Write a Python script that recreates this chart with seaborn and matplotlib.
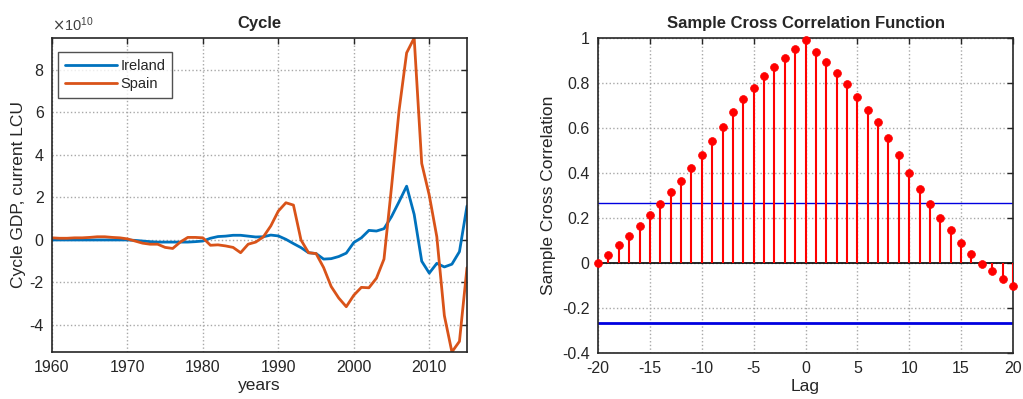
import numpy as np
import pandas as pd
import seaborn as sns
import matplotlib.pyplot as plt
from matplotlib.ticker import FuncFormatter

# 周期数据 (单位 1e10, current LCU)
years = list(range(1960, 2016))
ireland = [0.0, 0.0, 0.0, 0.0, 0.0, 0.0, 0.0, 0.0, 0.0, 0.0,
           0.0, -0.02, -0.05, -0.08, -0.1, -0.1, -0.1, -0.1, -0.1, -0.08,
           -0.05, 0.08, 0.16, 0.18, 0.22, 0.22, 0.18, 0.14, 0.15, 0.23,
           0.19, 0.03, -0.17, -0.36, -0.6, -0.64, -0.9, -0.88, -0.78, -0.62,
           -0.12, 0.1, 0.45, 0.42, 0.53, 1.1, 1.8, 2.53, 1.2, -1.0,
           -1.56, -1.1, -1.27, -1.14, -0.55, 1.6]
spain = [0.1, 0.08, 0.08, 0.1, 0.1, 0.12, 0.15, 0.15, 0.12, 0.1,
         0.05, -0.05, -0.15, -0.2, -0.2, -0.35, -0.4, -0.1, 0.12, 0.12,
         0.1, -0.25, -0.23, -0.28, -0.35, -0.6, -0.2, -0.1, 0.14, 0.66,
         1.36, 1.75, 1.64, 0.0, -0.6, -0.64, -1.3, -2.19, -2.73, -3.14,
         -2.6, -2.23, -2.25, -1.8, -0.9, 2.5, 6.1, 8.8, 9.5, 3.6,
         2.1, 0.15, -3.56, -5.27, -4.77, -1.3]

# 互相关函数
lags = list(range(-20, 21))
xcf = [0.0, 0.034, 0.079, 0.12, 0.166, 0.212, 0.264, 0.314, 0.366, 0.422,
       0.478, 0.544, 0.605, 0.672, 0.728, 0.779, 0.829, 0.871, 0.911, 0.952,
       0.99, 0.938, 0.892, 0.845, 0.795, 0.738, 0.682, 0.626, 0.554, 0.478,
       0.401, 0.33, 0.264, 0.202, 0.146, 0.091, 0.039, -0.003, -0.037, -0.073,
       -0.104]
conf_bound = 0.265

df_cycle = pd.DataFrame({
    'year': years * 2,
    'value': np.array(ireland + spain) * 1e10,
    'country': ['Ireland'] * len(years) + ['Spain'] * len(years),
})
df_xcf = pd.DataFrame({'lag': lags, 'xcf': xcf})

sns.set_theme(style='white')
plt.rcParams['font.family'] = ['Liberation Sans', 'DejaVu Sans']
plt.rcParams['axes.unicode_minus'] = False

fig = plt.figure(figsize=(10.23, 3.99), dpi=100)
ax1 = fig.add_axes([0.0508, 0.1178, 0.4057, 0.787])
ax2 = fig.add_axes([0.5846, 0.1153, 0.4056, 0.7895])


def style_axes(ax):
    for s in ax.spines.values():
        s.set_color('#262626')
        s.set_linewidth(1.2)
    ax.tick_params(direction='in', length=4, width=1, colors='#262626',
                   labelsize=11.5, top=True, right=True, pad=6)
    ax.grid(True, linestyle=':', color='#a8a8a8', linewidth=1.0)
    ax.set_axisbelow(True)


# 左图: Cycle
sns.lineplot(data=df_cycle, x='year', y='value', hue='country',
             palette=['#0072BD', '#D95319'], linewidth=2, ax=ax1)
ax1.set_xlim(1960, 2015)
ax1.set_ylim(-5.27e10, 9.5e10)
ax1.set_xticks([1960, 1970, 1980, 1990, 2000, 2010])
ax1.set_yticks(np.arange(-4, 9, 2) * 1e10)
ax1.yaxis.set_major_formatter(FuncFormatter(lambda v, p: '%g' % (v / 1e10)))
ax1.text(0.0, 1.012, r'$\times\mathdefault{10^{10}}$', transform=ax1.transAxes,
         fontsize=10.5, color='#404040', ha='left', va='bottom')
style_axes(ax1)
ax1.set_title('Cycle', fontsize=12, fontweight='bold', pad=7)
ax1.set_xlabel('years', fontsize=12.5, labelpad=2)
ax1.set_ylabel('Cycle GDP, current LCU', fontsize=12.5, labelpad=2)
leg = ax1.legend(loc='upper left', fontsize=10.5, frameon=True, fancybox=False,
                 borderpad=0.45, handlelength=3.6, handletextpad=0.2,
                 labelspacing=0.3, borderaxespad=0.0,
                 bbox_to_anchor=(0.015, 0.955))
leg.get_frame().set_edgecolor('#262626')
leg.get_frame().set_linewidth(1)

# 右图: Sample Cross Correlation Function
ax2.axhline(0, color='black', linewidth=1.2, zorder=2)
ax2.vlines(df_xcf['lag'], 0, df_xcf['xcf'], color='red', linewidth=1.5, zorder=3)
sns.scatterplot(data=df_xcf, x='lag', y='xcf', color='red', s=32,
                edgecolor='red', linewidth=0.5, ax=ax2, zorder=4, clip_on=False)
ax2.axhline(conf_bound, color='#0000e0', linewidth=1.0, zorder=2)
ax2.axhline(-conf_bound, color='#0000e0', linewidth=2.0, zorder=2)
ax2.set_xlim(-20, 20)
ax2.set_ylim(-0.4, 1)
ax2.set_xticks(range(-20, 21, 5))
ax2.set_yticks([-0.4, -0.2, 0, 0.2, 0.4, 0.6, 0.8, 1])
ax2.set_yticklabels(['-0.4', '-0.2', '0', '0.2', '0.4', '0.6', '0.8', '1'])
ax2.set_xticklabels([str(v) for v in range(-20, 21, 5)])
style_axes(ax2)
ax2.set_title('Sample Cross Correlation Function', fontsize=12,
              fontweight='bold', pad=7)
ax2.set_xlabel('Lag', fontsize=12.5, labelpad=2)
ax2.set_ylabel('Sample Cross Correlation', fontsize=12.5, labelpad=4)

fig.savefig('out.png', dpi=100)
